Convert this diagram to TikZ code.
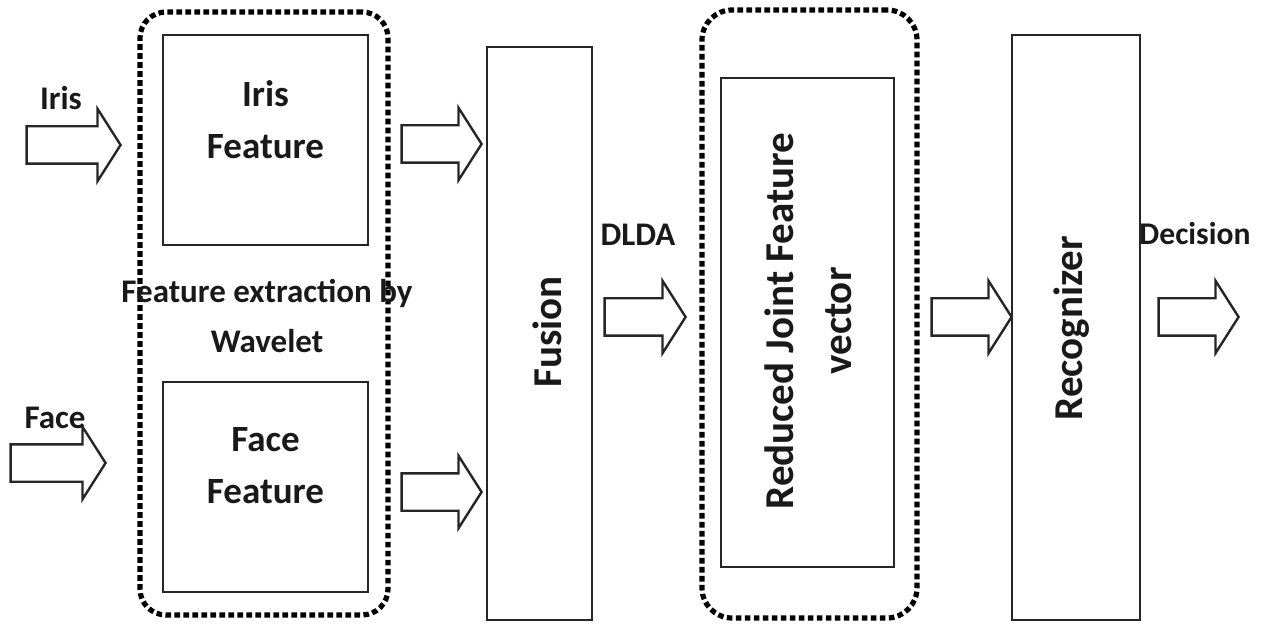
\documentclass[tikz,border=0pt]{standalone}
\usepackage{fontspec}
\setmainfont{Carlito}
\usetikzlibrary{shapes.arrows,fit}
\begin{document}
\begin{tikzpicture}[x=0.5pt,y=-0.5pt,
  box/.style={draw=black!85, line width=1.3pt, inner sep=0pt},
  dotbox/.style={draw=black, line width=2.6pt, dash pattern=on 2.8pt off 1.7pt,
    rounded corners=13pt, inner sep=0pt},
  blockarrow/.style={single arrow, draw=black!85, line width=1.2pt, fill=white,
    inner xsep=0pt, inner ysep=8.75pt, single arrow head extend=8.75pt,
    single arrow tip angle=115, single arrow head indent=0pt, anchor=tip},
  lab/.style={inner sep=0pt, align=center, text=black!90,
    font=\bfseries\fontsize{16.5}{25}\selectfont},
  boxtxt/.style={inner sep=0pt, align=center, text=black!90,
    font=\bfseries\fontsize{18.5}{26}\selectfont},
  rottxt/.style={inner sep=0pt, align=center, rotate=90, text=black!90,
    font=\bfseries\fontsize{20.5}{29}\selectfont}]
\useasboundingbox (0,0) rectangle (1267,625);

% wavelet feature extraction group
\node[dotbox, fit={(140,12) (388,615)}] (wavegrp) {};
\node[box, fit={(163,35) (368,245)}] (irisbox) {};
\node[box, fit={(163,382) (368,592)}] (facebox) {};
\node[boxtxt] (iristxt) at (265.5,120) {Iris\\Feature};
\node[boxtxt] (facetxt) at (265.5,466) {Face\\Feature};
\node[lab] (wavetxt) at (267,316) {Feature extraction by\\Wavelet};

% fusion stage
\node[box, fit={(487,47) (592,620)}] (fusion) {};
\node[rottxt] (fusiontxt) at (547,332) {Fusion};

% reduced feature group
\node[dotbox, rounded corners=15pt, fit={(702,10) (917,618)}] (redgrp) {};
\node[box, fit={(721,78) (894,567)}] (redbox) {};
\node[rottxt] (redtxt) at (808,321) {Reduced Joint Feature\\vector};

% recognizer
\node[box, fit={(1012,35) (1140,620)}] (recog) {};
\node[rottxt] (recogtxt) at (1072,328) {Recognizer};

% block arrows
\node[blockarrow, minimum height=47pt] (irisin) at (122,145) {};
\node[blockarrow, minimum height=47.5pt] (facein) at (107,463) {};
\node[blockarrow, minimum height=40pt] (irisout) at (483,144) {};
\node[blockarrow, minimum height=40pt] (faceout) at (483,492) {};
\node[blockarrow, minimum height=40.5pt] (dlda) at (687,317) {};
\node[blockarrow, minimum height=40pt] (torecog) at (1013,317) {};
\node[blockarrow, minimum height=40pt] (decision) at (1240,317) {};

% labels
\node[lab] (irislab) at (61,98) {Iris};
\node[lab] (facelab) at (55,418) {Face};
\node[lab] (dldalab) at (638,235) {DLDA};
\node[lab, font=\bfseries\fontsize{15.8}{20}\selectfont] (declab) at (1195,234) {Decision};
\end{tikzpicture}
\end{document}
